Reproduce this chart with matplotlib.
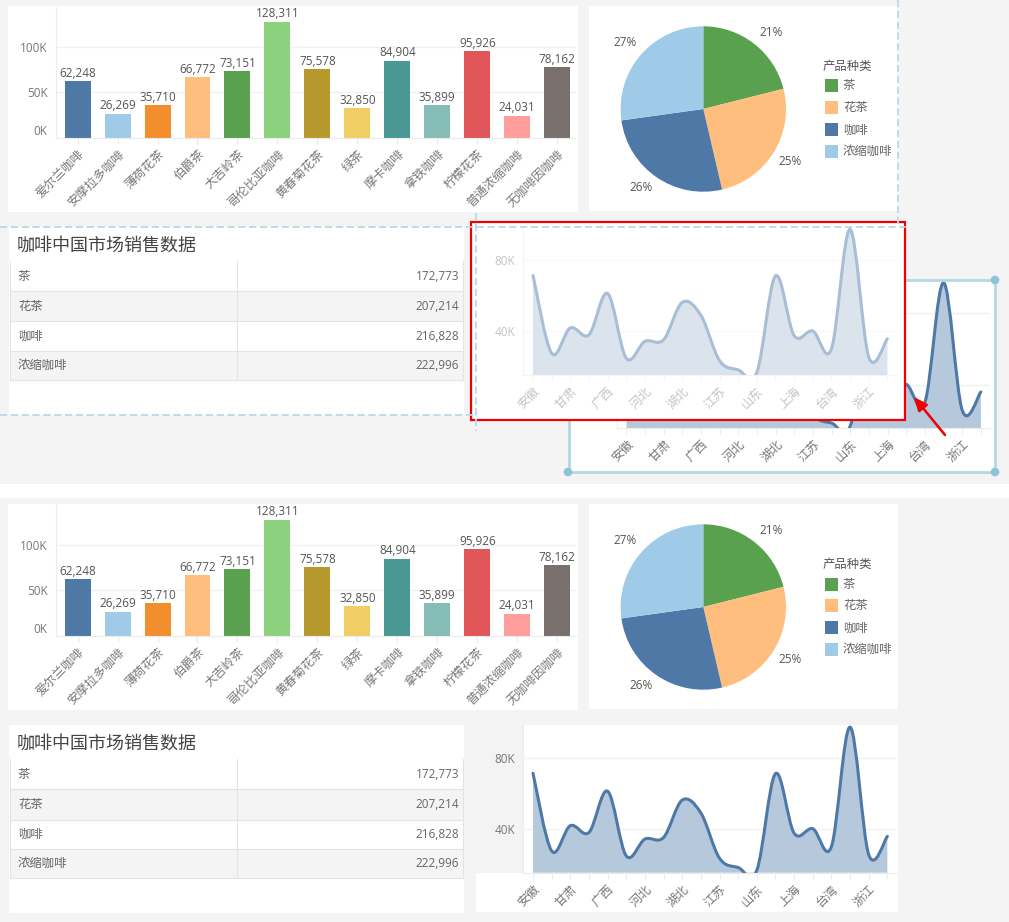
import matplotlib
matplotlib.use('Agg')
import numpy as np
from matplotlib import pyplot as plt
from matplotlib.patches import Rectangle, PathPatch, Circle
from matplotlib.path import Path

plt.rcParams['font.family'] = ['Open Sans', 'Noto Sans CJK SC', 'DejaVu Sans']

# bar chart
products = ['爱尔兰咖啡', '安摩拉多咖啡', '薄荷花茶', '伯爵茶', '大吉岭茶', '哥伦比亚咖啡', '黄春菊花茶',
            '绿茶', '摩卡咖啡', '拿铁咖啡', '柠檬花茶', '普通浓缩咖啡', '无咖啡因咖啡']
sales = [62248, 26269, 35710, 66772, 73151, 128311, 75578, 32850, 84904, 35899, 95926, 24031, 78162]
bar_colors = ['#4e79a7', '#a0cbe8', '#f28e2b', '#ffbe7d', '#59a14f', '#8cd17d', '#b6992d',
              '#f1ce63', '#499894', '#86bcb6', '#e15759', '#ff9d9a', '#79706e']

# pie + table
kinds = ['茶', '花茶', '咖啡', '浓缩咖啡']
kind_sales = [172773, 207214, 216828, 222996]
kind_colors = ['#59a14f', '#ffbe7d', '#4e79a7', '#a0cbe8']

# area chart, one value per tick, only every other tick is labelled
area_values = [71.2, 27.8, 41.9, 38.1, 61.2, 25.0, 34.4, 35.3, 56.2, 49.0,
               23.7, 18.5, 17.0, 71.0, 37.7, 40.2, 30.2, 97.0, 25.7, 35.9]
provinces = ['安徽', '甘肃', '广西', '河北', '湖北', '江苏', '山东', '上海', '台湾', '浙江']

W, H = 1009, 922
BG = '#f4f4f4'
GRID = '#f1f1f1'
DASH = '#b7dbe5'
FS = 8.9      # chinese text
FN = 8.5      # numbers

fig = plt.figure(figsize=(W / 100, H / 100), dpi=100, facecolor=BG)


def px_axes(l, t, r, b, z):
    ax = fig.add_axes([l / W, 1 - b / H, (r - l) / W, (b - t) / H], zorder=z)
    ax.patch.set_alpha(0)
    return ax


def overlay(z):
    ax = fig.add_axes([0, 0, 1, 1], zorder=z)
    ax.set_xlim(0, W)
    ax.set_ylim(H, 0)
    ax.axis('off')
    return ax


def clean(ax):
    for s in ['top', 'right']:
        ax.spines[s].set_visible(False)
    for s in ['left', 'bottom']:
        ax.spines[s].set_color('#ececec')


def bar_chart(dy):
    ax = px_axes(56, 7 + dy, 576, 137.6 + dy, 2)
    ax.bar(range(len(sales)), sales, width=0.65, color=bar_colors)
    ax.set_xlim(-0.54, 12.47)
    ax.set_ylim(0, 144500)
    ax.set_yticks([0, 50000, 100000], ['0K', '50K', '100K'])
    ax.set_xticks(range(len(products)), products)
    clean(ax)
    ax.grid(axis='y', color=GRID, lw=1)
    ax.set_axisbelow(True)
    ax.tick_params(axis='y', length=0, labelsize=FN, labelcolor='#777777', pad=6)
    ax.tick_params(axis='x', length=4, color='#e8e8e8', labelsize=FS, labelcolor='#777777', pad=3)
    ax.get_yticklabels()[0].set_va('bottom')
    plt.setp(ax.get_xticklabels(), rotation=45, ha='right', rotation_mode='anchor')
    ax.bar_label(ax.containers[0], labels=[f'{v:,}' for v in sales], fontsize=FN, color='#555555', padding=1)


def pie_chart(dy, bg):
    ax = px_axes(620.6, 26.3 + dy, 786, 191.7 + dy, 2)
    _, _, pct = ax.pie(kind_sales, colors=kind_colors, startangle=90, counterclock=False, radius=1,
                       autopct='%.0f%%', pctdistance=1.23, textprops={'fontsize': FN, 'color': '#555555'})
    pct[0].set_position((0.82, 0.93))
    pct[3].set_position((-0.94, 0.8))
    pct[2].set_position((-0.75, -0.955))
    ax.set_xlim(-1, 1)
    ax.set_ylim(-1, 1)
    bg.text(823, 66.7 + dy, '产品种类', fontsize=FS, color='#555555', va='center')
    for i, k in enumerate(kinds):
        y = 86 + i * 21.9 + dy
        bg.add_patch(Rectangle((825, y - 6.5), 13, 13, color=kind_colors[i], lw=0))
        bg.text(843, y, k, fontsize=FS, color='#666666', va='center')


def table(dy, bg):
    bg.text(17, 246 + dy, '咖啡中国市场销售数据', fontsize=13, color='#444444', va='center')
    edges = [261, 291, 321.5, 351, 380.3]
    for i, k in enumerate(kinds):
        top, bot = edges[i] + dy, edges[i + 1] + dy
        if i % 2 == 1:
            bg.add_patch(Rectangle((9.5, top), 453.5, bot - top, color=BG, lw=0))
        bg.plot([9.5, 463], [bot, bot], color='#e4e4e4', lw=0.8)
        mid = (top + bot) / 2
        bg.text(18, mid, k, fontsize=FS, color='#666666', va='center')
        bg.text(459, mid, f'{kind_sales[i]:,}', fontsize=FN, color='#666666', va='center', ha='right')
    bg.plot([236.7, 236.7], [261 + dy, 380.3 + dy], color='#e4e4e4', lw=0.8)
    bg.plot([9.5, 9.5], [261 + dy, 380.3 + dy], color='#e4e4e4', lw=0.8)
    bg.plot([463, 463], [261 + dy, 380.3 + dy], color='#e4e4e4', lw=0.8)


def smooth_path(xs, ys, floor, k=0.17):
    # bezier through the points, closed along the floor for the fill
    xs = np.asarray(xs, float)
    ys = np.asarray(ys, float)
    n = len(xs)
    verts = [(xs[0], ys[0])]
    for i in range(n - 1):
        i0, i3 = max(i - 1, 0), min(i + 2, n - 1)
        verts.append((xs[i] + (xs[i + 1] - xs[i0]) * k, ys[i] + (ys[i + 1] - ys[i0]) * k))
        verts.append((xs[i + 1] - (xs[i3] - xs[i]) * k, ys[i + 1] - (ys[i3] - ys[i]) * k))
        verts.append((xs[i + 1], ys[i + 1]))
    codes = [Path.MOVETO] + [Path.CURVE4] * (len(verts) - 1)
    line = Path(verts, codes)
    fill = Path(verts + [(xs[-1], floor), (xs[0], floor), (xs[0], ys[0])],
                codes + [Path.LINETO, Path.LINETO, Path.CLOSEPOLY])
    return line, fill


def area_chart(dx, dy, z, line_c, fill_c, text_c, spine_c, grid_c):
    ax = px_axes(523.3 + dx, 725 + dy, 896.7 + dx, 872.7 + dy, z)
    xs = np.arange(len(area_values))
    line, fill = smooth_path(xs, area_values, 15.6)
    ax.add_patch(PathPatch(fill, facecolor=fill_c, edgecolor='none'))
    ax.add_patch(PathPatch(line, facecolor='none', edgecolor=line_c, lw=2.2, capstyle='round'))
    ax.set_xlim(-0.52, 19.5)
    ax.set_ylim(15.6, 98.2)
    ax.set_yticks([40, 80], ['40K', '80K'])
    ax.set_xticks(xs, [provinces[i // 2] if i % 2 == 0 else '' for i in xs])
    for s in ['top', 'right']:
        ax.spines[s].set_visible(False)
    for s in ['left', 'bottom']:
        ax.spines[s].set_color(spine_c)
    ax.grid(axis='y', color=grid_c, lw=1)
    ax.set_axisbelow(True)
    ax.tick_params(axis='y', length=0, labelsize=FN, labelcolor=text_c, pad=6)
    ax.tick_params(axis='x', length=4, color=spine_c, labelsize=FS, labelcolor=text_c, pad=3)
    plt.setp(ax.get_xticklabels(), rotation=45, ha='right', rotation_mode='anchor')


# panels
bg = overlay(0)
bg.add_patch(Rectangle((0, 484), W, 14, color='white', lw=0))
for dy in [0, 498]:
    bg.add_patch(Rectangle((8, 6 + dy), 570, 206, color='white', lw=0))
    bg.add_patch(Rectangle((589, 6 + dy), 309, 205, color='white', lw=0))
    bg.add_patch(Rectangle((9, 227 + dy), 455, 188, color='white', lw=0))
    bar_chart(dy)
    pie_chart(dy, bg)
    table(dy, bg)

# finished area chart at the bottom, left of its axis stays grey
bg.add_patch(Rectangle((476, 725), 422, 187, color='white', lw=0))
bg.add_patch(Rectangle((476, 725), 47.3, 147.7, color='#f3f3f3', lw=0))
area_chart(0, 0, 2, '#4e79a7', '#b6c8db', '#777777', '#ececec', GRID)

# the same chart being dragged
drag = overlay(3)
drag.add_patch(Rectangle((569, 280), 426, 192, color='white', lw=0))
area_chart(93.5, -444.4, 4, '#4e79a7', '#b6c8db', '#777777', '#ececec', GRID)
frame = overlay(5)
frame.add_patch(Rectangle((568.5, 280), 426.5, 192, fill=False, ec='#b4d8e3', lw=2))
for cx, cy in [(568, 472), (995, 472), (995, 280)]:
    frame.add_patch(Circle((cx, cy), 4.3, color='#8bc6d8', lw=0))

# ghost preview under the red box
ghost = overlay(6)
ghost.add_patch(Rectangle((471, 222), 434, 198, color='white', lw=0))
area_chart(0, -497.7, 7, '#a8bdd6', '#dbe3ec', '#c4c4c4', '#f4f4f4', '#f7f7f7')

top = overlay(8)
top.plot([0, 908], [227, 227], color=DASH, lw=1.3, ls=(0, (4, 2)))
top.plot([0, 476], [415, 415], color=DASH, lw=1.3, ls=(0, (4, 2)))
top.plot([476, 476], [213, 431], color=DASH, lw=1.3, ls=(0, (4, 2)))
top.plot([898, 898], [0, 227], color=DASH, lw=1.3, ls=(0, (4, 2)))
top.add_patch(Rectangle((471, 222), 434, 198, fill=False, ec='#f00000', lw=1.6))
top.annotate('', xy=(914, 397), xytext=(945, 435),
             arrowprops=dict(arrowstyle='-|>,head_width=0.35,head_length=0.8', color='#ee0000', lw=1.8, shrinkA=0, shrinkB=0))

fig.savefig('out.png', dpi=100, facecolor=BG)
